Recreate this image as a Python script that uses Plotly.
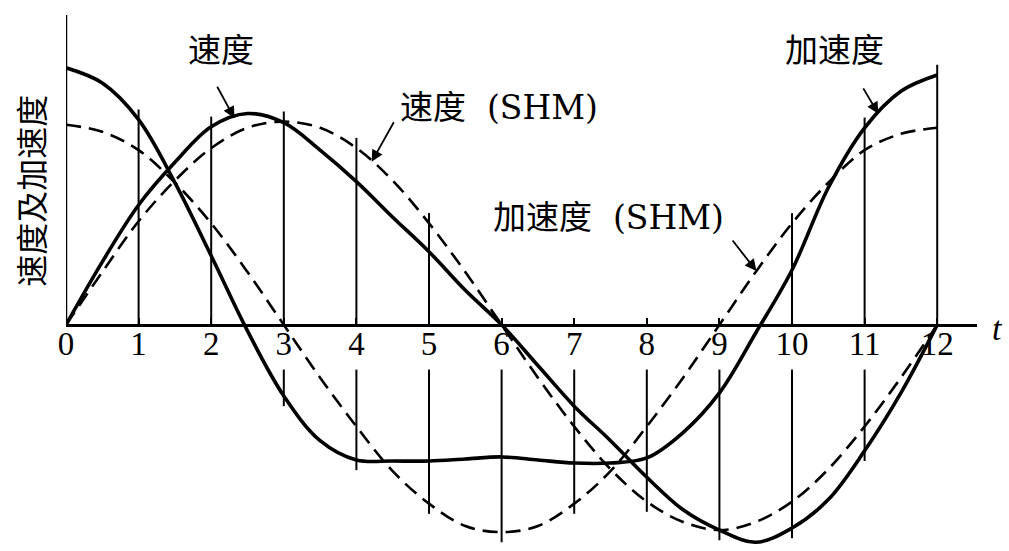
import numpy as np
import plotly.graph_objects as go

# time axis (one full cycle, 12 divisions), sampled every half division
T = [i * 0.5 for i in range(25)]
TICKS = list(range(13))
TICK_LABELS = [str(k) for k in TICKS]

# piston motion curves vs. simple harmonic motion
acc = [1.265, 1.19, 1.01, 0.70, 0.34, -0.03, -0.35, -0.57, -0.665, -0.67, -0.67,
       -0.66, -0.65, -0.665, -0.68, -0.68, -0.655, -0.53, -0.335, -0.04, 0.27,
       0.675, 0.97, 1.15, 1.23]
vel = [0.0, 0.31, 0.59, 0.80, 0.975, 1.04, 0.995, 0.86, 0.705, 0.53, 0.36, 0.17,
       0.0, -0.20, -0.40, -0.57, -0.75, -0.91, -1.01, -1.07, -1.0, -0.86, -0.62,
       -0.335, 0.0]
vel_shm = [0.0, 0.26, 0.51, 0.71, 0.87, 0.97, 1.0, 0.97, 0.87, 0.71, 0.5, 0.26, 0.0,
           -0.26, -0.5, -0.71, -0.87, -0.97, -1.01, -0.97, -0.87, -0.71, -0.5, -0.26, 0.0]
acc_shm = [0.985, 0.95, 0.86, 0.70, 0.50, 0.26, 0.0, -0.26, -0.5, -0.72, -0.88, -0.99,
           -1.02, -0.99, -0.88, -0.72, -0.5, -0.26, 0.0, 0.26, 0.5, 0.70, 0.86, 0.94, 0.97]

X_RANGE = [0, 12.548]
Y_RANGE = [-1.113, 1.525]
LABEL_GAP = 0.22   # construction lines stop short of the tick labels
OVERSHOOT = 0.05

LABEL_FONT = "DejaVu Serif, Noto Sans CJK SC"
fig = go.Figure()

# vertical construction lines at each division
vx, vy = [], []
curves = [acc, vel, vel_shm, acc_shm]
for k in TICKS[1:]:
    i = T.index(float(k))
    vals = [c[i] for c in curves]
    top, bot = max(vals), min(vals)
    if top > 0:
        vx += [k, k, None]
        vy += [0, top + OVERSHOOT, None]
    if bot < -LABEL_GAP:
        vx += [k, k, None]
        vy += [-LABEL_GAP, bot - OVERSHOOT, None]
fig.add_trace(go.Scatter(x=vx, y=vy, mode="lines",
                         line=dict(color="black", width=2), hoverinfo="skip"))

# y axis drawn above the origin only
fig.add_trace(go.Scatter(x=[0, 0], y=[0, Y_RANGE[1]], mode="lines",
                         line=dict(color="black", width=2.5), hoverinfo="skip"))

dash = "15px,8px"
for ys, d, w in [(vel_shm, dash, 2.6), (acc_shm, dash, 2.6), (acc, None, 3.6), (vel, None, 3.6)]:
    fig.add_trace(go.Scatter(x=T, y=ys, mode="lines",
                             line=dict(color="black", width=w, dash=d,
                                       shape="spline", smoothing=1.0),
                             hoverinfo="skip"))

ann = []
def label(text, x, y):
    ann.append(dict(text=text, x=x, y=y, xref="x", yref="y", showarrow=False,
                    xanchor="center", yanchor="middle",
                    font=dict(family=LABEL_FONT, size=33, color="black")))

def arrow(series, x, ax, ay):
    ann.append(dict(text="", x=x, y=float(np.interp(x, T, series)), xref="x", yref="y",
                    ax=ax, ay=ay, showarrow=True, arrowhead=2, arrowsize=1.3,
                    arrowwidth=1.8, arrowcolor="black"))

label("速度", 2.14, 1.35)
arrow(vel, 2.32, -18, -33)
label("速度\u00a0\u00a0(SHM)", 5.97, 1.07)
arrow(vel_shm, 4.21, 23, -41)
label("加速度\u00a0\u00a0(SHM)", 7.47, 0.53)
arrow(acc_shm, 9.51, -25, -32)
label("加速度", 10.58, 1.35)
arrow(acc, 11.19, -16, -27)

ann.append(dict(text="<i>t</i>", x=1.022, y=0.415, xref="paper", yref="paper",
                xanchor="center", yanchor="middle", showarrow=False,
                font=dict(family="Liberation Serif", size=34, color="black")))
ann.append(dict(text="速度及加速度", x=-0.0395, y=0.672, xref="paper", yref="paper",
                xanchor="center", yanchor="middle", showarrow=False, textangle=-90,
                font=dict(family="Noto Sans CJK SC", size=32, color="black")))

axis_pos = (0 - Y_RANGE[0]) / (Y_RANGE[1] - Y_RANGE[0])

fig.update_layout(
    width=1009, height=551,
    margin=dict(l=66, r=32, t=15, b=0),
    paper_bgcolor="white", plot_bgcolor="white",
    showlegend=False, hovermode=False,
    annotations=ann,
    xaxis=dict(range=X_RANGE, anchor="free", position=axis_pos,
               showline=True, linecolor="black", linewidth=3,
               showgrid=False, zeroline=False,
               tickvals=TICKS, ticktext=TICK_LABELS,
               ticks="inside", ticklen=6, tickwidth=2, tickcolor="black",
               ticklabelstandoff=-11,
               tickfont=dict(family="Liberation Serif", size=33, color="black")),
    yaxis=dict(range=Y_RANGE, visible=False),
)

fig.write_html("out.html")
